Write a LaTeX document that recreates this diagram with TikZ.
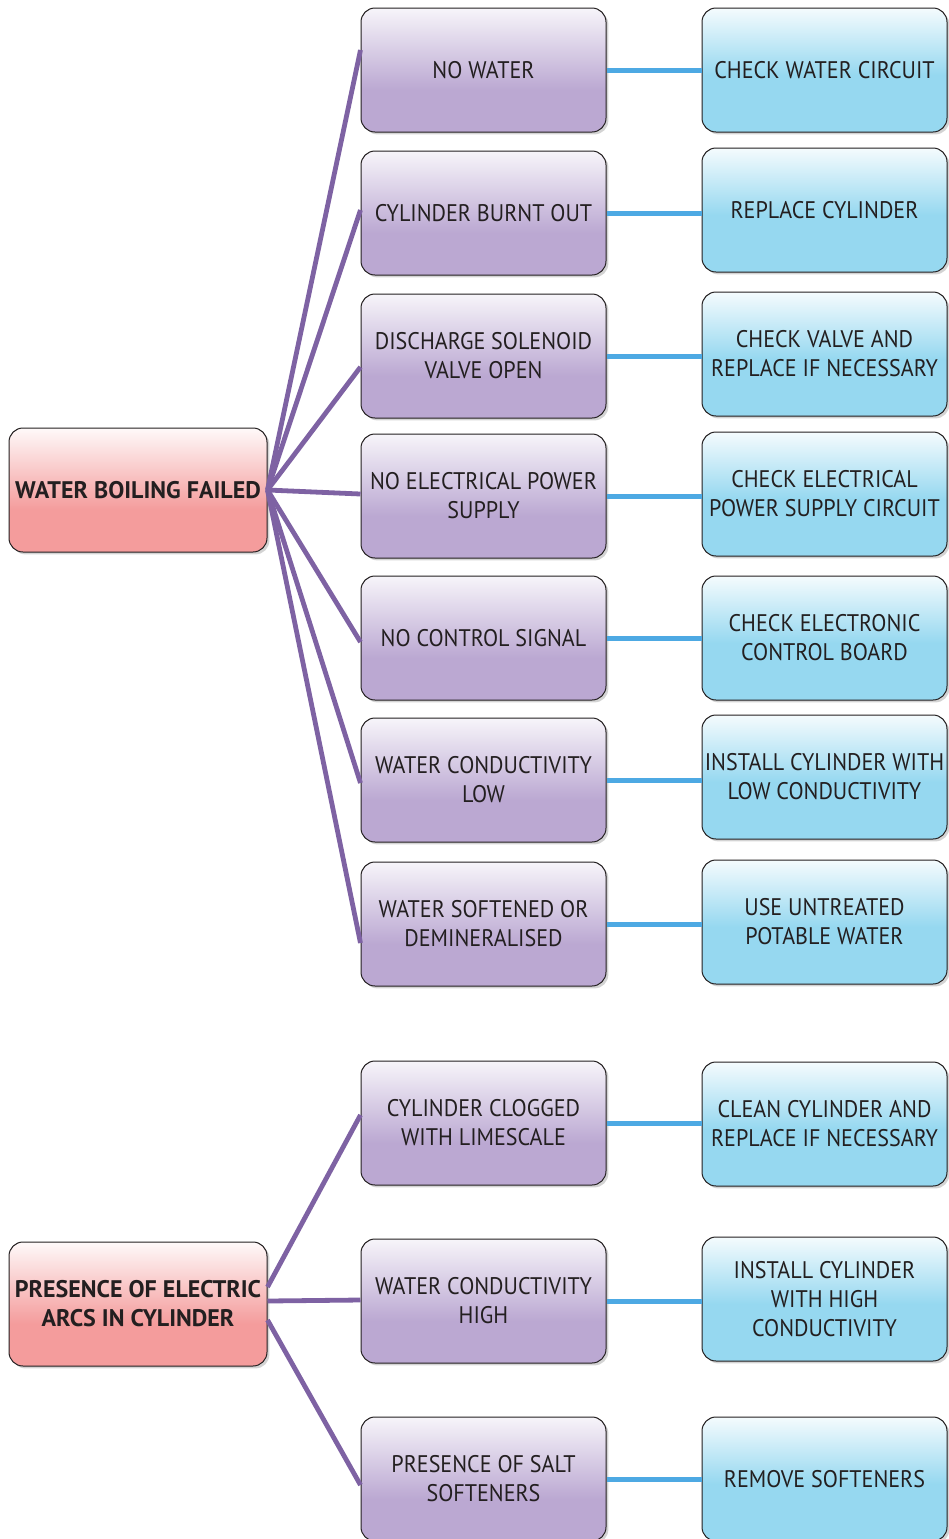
\documentclass[tikz,border=0pt]{standalone}
\usepackage{fontspec}
\setmainfont{PT Sans}[UprightFeatures={FakeStretch=0.92}]
\usetikzlibrary{shadows}

\definecolor{rootred}{RGB}{244,156,156}
\definecolor{causelilac}{RGB}{187,168,210}
\definecolor{fixblue}{RGB}{150,216,240}
\definecolor{linkpurple}{RGB}{126,98,163}
\definecolor{linkblue}{RGB}{77,169,227}
\definecolor{inkgray}{RGB}{35,31,32}

% light at the top, full colour further down
\pgfdeclareverticalshading{faultfade}{100bp}{color(0bp)=(rootred); color(25bp)=(rootred);
	color(42bp)=(rootred); color(75bp)=(rootred!6); color(100bp)=(rootred!6)}
\pgfdeclareverticalshading{causefade}{100bp}{color(0bp)=(causelilac); color(25bp)=(causelilac);
	color(42bp)=(causelilac); color(75bp)=(causelilac!12); color(100bp)=(causelilac!12)}
\pgfdeclareverticalshading{remedyfade}{100bp}{color(0bp)=(fixblue); color(25bp)=(fixblue);
	color(48bp)=(fixblue); color(75bp)=(fixblue!10); color(100bp)=(fixblue!10)}

\begin{document}
\begin{tikzpicture}[x=0.5pt,y=-0.5pt,
	box/.style={draw=inkgray, line width=0.5pt, rounded corners=7pt,
		minimum height=62pt, inner sep=0.5pt, align=center, text=inkgray,
		font=\fontsize{12}{14.5}\selectfont,
		drop shadow={opacity=0.35, shadow xshift=1.2pt, shadow yshift=-1.2pt}},
	fault/.style={box, minimum width=129pt, shading=faultfade,
		font=\fontsize{12}{14.5}\selectfont\bfseries},
	cause/.style={box, minimum width=122.5pt, shading=causefade},
	remedy/.style={box, minimum width=122.5pt, shading=remedyfade},
	tocause/.style={linkpurple, line width=2.4pt},
	toremedy/.style={linkblue, line width=2.5pt}]

	\useasboundingbox (0,0) rectangle (949,1539);

	% first fault
	\node [fault] (boil) at (138,490) {WATER BOILING FAILED};

	\node [cause] (c1) at (483.5,70) {NO WATER};
	\node [cause] (c2) at (483.5,213) {CYLINDER BURNT OUT};
	\node [cause] (c3) at (483.5,356) {DISCHARGE SOLENOID\\VALVE OPEN};
	\node [cause] (c4) at (483.5,496) {NO ELECTRICAL POWER\\SUPPLY};
	\node [cause] (c5) at (483.5,638) {NO CONTROL SIGNAL};
	\node [cause] (c6) at (483.5,780) {WATER CONDUCTIVITY\\LOW};
	\node [cause] (c7) at (483.5,924) {WATER SOFTENED OR\\DEMINERALISED};

	\node [remedy] (r1) at (824.5,70) {CHECK WATER CIRCUIT};
	\node [remedy] (r2) at (824.5,210) {REPLACE CYLINDER};
	\node [remedy] (r3) at (824.5,354) {CHECK VALVE AND\\REPLACE IF NECESSARY};
	\node [remedy] (r4) at (824.5,494) {CHECK ELECTRICAL\\POWER SUPPLY CIRCUIT};
	\node [remedy] (r5) at (824.5,638) {CHECK ELECTRONIC\\CONTROL BOARD};
	\node [remedy] (r6) at (824.5,777) {INSTALL CYLINDER WITH\\LOW CONDUCTIVITY};
	\node [remedy] (r7) at (824.5,922) {USE UNTREATED\\POTABLE WATER};

	% second fault
	\node [fault] (arcs) at (138,1304) {PRESENCE OF ELECTRIC\\ARCS IN CYLINDER};

	\node [cause] (c8) at (483.5,1123) {CYLINDER CLOGGED\\WITH LIMESCALE};
	\node [cause] (c9) at (483.5,1301) {WATER CONDUCTIVITY\\HIGH};
	\node [cause] (c10) at (483.5,1479) {PRESENCE OF SALT\\SOFTENERS};

	\node [remedy] (r8) at (824.5,1124) {CLEAN CYLINDER AND\\REPLACE IF NECESSARY};
	\node [remedy] (r9) at (824.5,1299) {INSTALL CYLINDER\\WITH HIGH\\CONDUCTIVITY};
	\node [remedy] (r10) at (824.5,1479) {REMOVE SOFTENERS};

	% fan of causes, each line ends a little off the box middle
	\foreach \i/\dy in {1/10,2/1.5,3/-5.5,4/1,5/-2,6/-1.5,7/-9.5}
		\draw [tocause] (boil.east) -- ([yshift=\dy pt]c\i.west);
	\draw [tocause] ([yshift=8.5pt]arcs.east) -- ([yshift=4pt]c8.west);
	\draw [tocause] ([yshift=1.5pt]arcs.east) -- ([yshift=0.5pt]c9.west);
	\draw [tocause] ([yshift=-8pt]arcs.east) -- ([yshift=-3pt]c10.west);
	\foreach \i in {1,...,10}
		\draw [toremedy] (c\i.east) -- (c\i.east -| r\i.west);

\end{tikzpicture}
\end{document}
